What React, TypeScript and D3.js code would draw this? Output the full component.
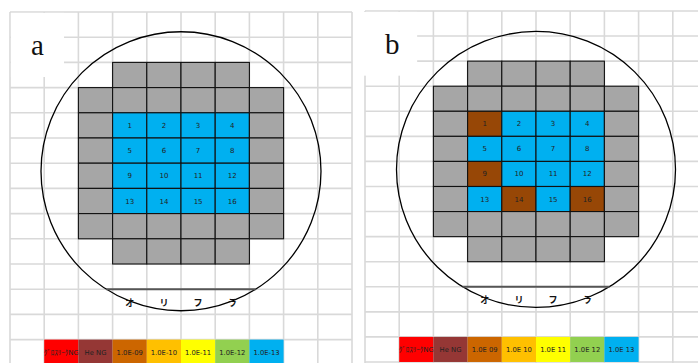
import React from "react";
import * as d3 from "d3";

// ---- data ----
const panelIds = ["a", "b"];
// wafer layout: D = dummy (gray) chip, T = test chip, . = empty
const waferMap = [
  "..........",
  "..........",
  "...DDDD...",
  "..DDDDDD..",
  "..DTTTTD..",
  "..DTTTTD..",
  "..DTTTTD..",
  "..DTTTTD..",
  "..DDDDDD..",
  "...DDDD...",
];
const chipNumbers = [1, 2, 3, 4, 5, 6, 7, 8, 9, 10, 11, 12, 13, 14, 15, 16];
const resultsA = [
  "1.0E-13", "1.0E-13", "1.0E-13", "1.0E-13",
  "1.0E-13", "1.0E-13", "1.0E-13", "1.0E-13",
  "1.0E-13", "1.0E-13", "1.0E-13", "1.0E-13",
  "1.0E-13", "1.0E-13", "1.0E-13", "1.0E-13",
];
const resultsB = [
  "NG", "1.0E-13", "1.0E-13", "1.0E-13",
  "1.0E-13", "1.0E-13", "1.0E-13", "1.0E-13",
  "NG", "1.0E-13", "1.0E-13", "1.0E-13",
  "1.0E-13", "NG", "1.0E-13", "NG",
];
const flatLabel = ["オ", "リ", "フ", "ラ"];
const legendLabelsA = ["ｸﾞﾛｽﾘｰｸNG", "He NG", "1.0E-09", "1.0E-10", "1.0E-11", "1.0E-12", "1.0E-13"];
const legendLabelsB = ["ｸﾞﾛｽﾘｰｸNG", "He NG", "1.0E 09", "1.0E 10", "1.0E 11", "1.0E 12", "1.0E 13"];
const legendColors = ["#FF0000", "#953735", "#CC6600", "#FFC000", "#FFFF00", "#92D050", "#00B0F0"];
const chipColors: Record<string, string> = { "1.0E-13": "#00B0F0", NG: "#974706" };

// ---- layout ----
const W = 698;
const H = 363;
const panels = [
  { x0: 10, y0: 12, colW: 34.2, rowH: 25.2, rx: 140, ry: 139.5, coverLeft: false, results: resultsA, legend: legendLabelsA },
  { x0: 365, y0: 11, colW: 34.2, rowH: 25.07, rx: 139.5, ry: 138, coverLeft: true, results: resultsB, legend: legendLabelsB },
];
const NCOL = 10;
const NROW = 14;

function Panel({ p, id }: { p: (typeof panels)[number]; id: string }) {
  const x = d3.scaleLinear().domain([0, NCOL]).range([p.x0, p.x0 + NCOL * p.colW]);
  const y = d3.scaleLinear().domain([0, NROW]).range([p.y0, p.y0 + NROW * p.rowH]);
  const cx = x(5);
  const cy = y(6.32);
  const flatY = y(11);
  const dx = p.rx * Math.sqrt(1 - Math.pow((flatY - cy) / p.ry, 2));

  const cells: { c: number; r: number; fill: string; label?: number }[] = [];
  let k = 0;
  waferMap.forEach((row, r) => {
    row.split("").forEach((ch, c) => {
      if (ch === "D") cells.push({ c, r, fill: "#A6A6A6" });
      if (ch === "T") {
        cells.push({ c, r, fill: chipColors[p.results[k]], label: chipNumbers[k] });
        k++;
      }
    });
  });

  return (
    <g>
      {/* spreadsheet grid */}
      <g stroke="#D9D9D9" strokeWidth={1.6}>
        {d3.range(NCOL + 1).map((c) => (
          <line key={"v" + c} x1={x(c)} x2={x(c)} y1={y(0)} y2={H + 5} />
        ))}
        {d3.range(NROW + 1).map((r) => (
          <line key={"h" + r} x1={x(0)} x2={x(NCOL)} y1={y(r)} y2={y(r)} />
        ))}
      </g>
      {/* label box */}
      <rect
        x={p.coverLeft ? x(0) - 1 : x(0) + 0.9}
        y={y(0) + 0.9}
        width={x(1.58) - x(0) - 0.9}
        height={y(2.58) - y(0) - 0.9}
        fill="#fff"
      />
      <text x={x(0.8)} y={y(1.7)} textAnchor="middle" fontFamily="'Liberation Serif', serif" fontSize={29} fill="#111">
        {id}
      </text>
      {/* chips */}
      {cells.map((d, i) => (
        <rect key={"c" + i} x={x(d.c)} y={y(d.r)} width={p.colW} height={p.rowH} fill={d.fill} stroke="#111" strokeWidth={1.1} />
      ))}
      {cells
        .filter((d) => d.label !== undefined)
        .map((d, i) => (
          <text
            key={"t" + i}
            x={x(d.c + 0.5)}
            y={y(d.r + 0.5) + 2.5}
            textAnchor="middle"
            fontFamily="'DejaVu Sans', sans-serif"
            fontSize={7}
            fill="#222"
          >
            {d.label}
          </text>
        ))}
      {/* wafer outline */}
      <ellipse cx={cx} cy={cy} rx={p.rx} ry={p.ry} fill="none" stroke="#000" strokeWidth={1.3} />
      <line x1={cx - dx} x2={cx + dx} y1={flatY} y2={flatY} stroke="#555" strokeWidth={2} />
      {flatLabel.map((s, i) => (
        <text
          key={"f" + i}
          x={x(3.5 + i)}
          y={y(11.5) + 4}
          textAnchor="middle"
          fontFamily="'Noto Sans CJK JP', sans-serif"
          fontWeight="bold"
          fontSize={9}
          fill="#111"
        >
          {s}
        </text>
      ))}
      {/* legend */}
      {legendColors.map((col, i) => (
        <g key={"l" + i}>
          <rect x={x(1 + i)} y={y(13)} width={p.colW} height={p.rowH} fill={col} />
          <text
            x={x(1.5 + i)}
            y={y(13.5) + 2.5}
            textAnchor="middle"
            fontFamily="'DejaVu Sans', 'Noto Sans CJK JP', sans-serif"
            fontSize={6.8}
            fill="#222"
            textLength={i === 0 ? p.colW + 1 : undefined}
            lengthAdjust="spacingAndGlyphs"
          >
            {p.legend[i]}
          </text>
        </g>
      ))}
    </g>
  );
}

export default function App() {
  return (
    <svg
      width={W}
      height={H}
      viewBox={`0 0 ${W} ${H}`}
      style={{ position: "absolute", left: 0, top: 0, display: "block", background: "#fff" }}
    >
      <rect width={W} height={H} fill="#fff" />
      {panels.map((p, i) => (
        <Panel key={panelIds[i]} p={p} id={panelIds[i]} />
      ))}
    </svg>
  );
}
